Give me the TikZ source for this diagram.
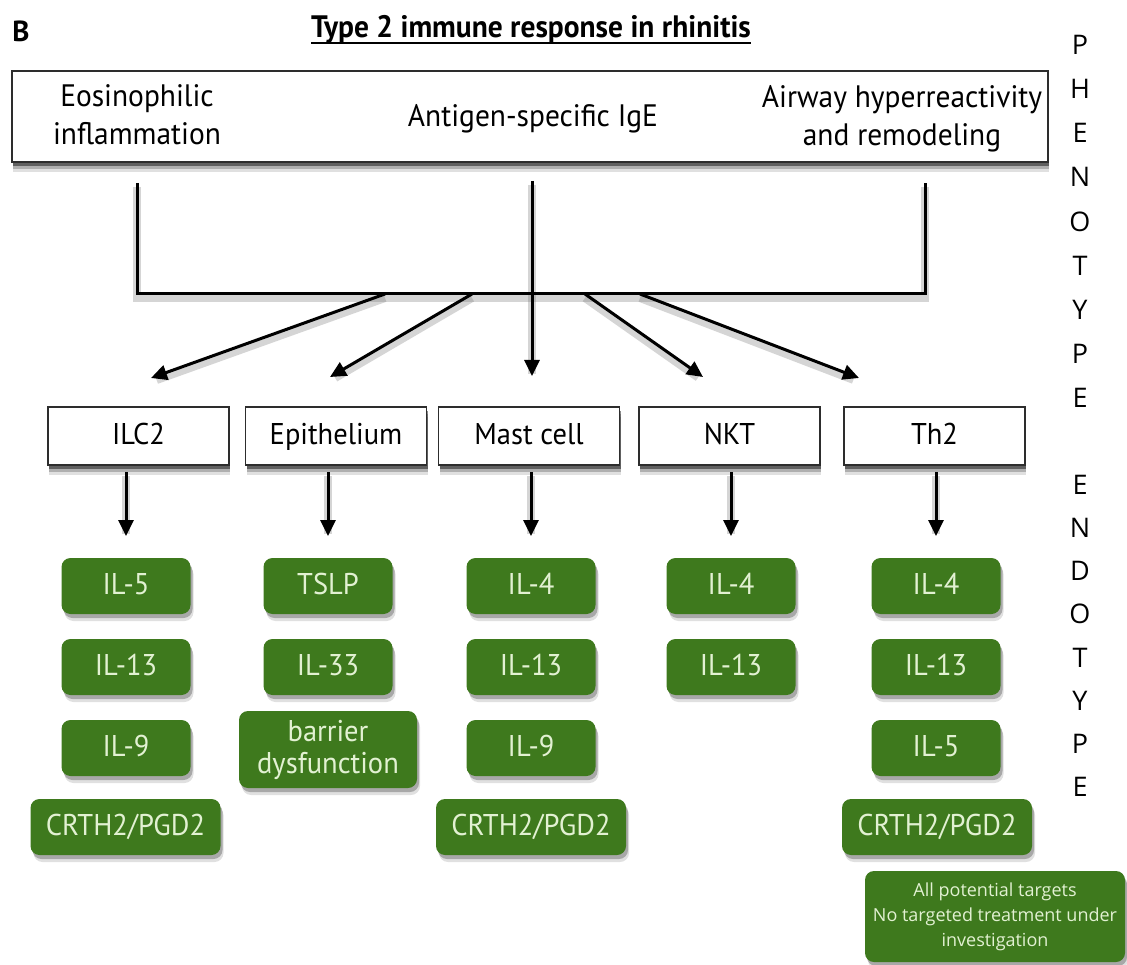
\documentclass[tikz,border=0pt]{standalone}
\usepackage{fontspec}
\setmainfont{PT Sans}
\newfontfamily\labelfont[FakeStretch=0.95]{PT Sans}
\newfontfamily\letterfont{Open Sans}
\usetikzlibrary{arrows.meta,shadows}

\definecolor{leaf}{RGB}{62,121,29}
\definecolor{leaftext}{RGB}{226,241,210}
\definecolor{frame}{RGB}{45,45,45}

\begin{document}
\begin{tikzpicture}[
  x=1pt, y=-1pt,
  every node/.style={inner sep=0pt, outer sep=0pt},
  % layered shadows give a soft edge below each box
  boxshadow/.style={
      drop shadow={shadow xshift=1pt, shadow yshift=-10pt, opacity=0.12, fill=black},
      drop shadow={shadow xshift=1pt, shadow yshift=-7pt, opacity=0.22, fill=black},
      drop shadow={shadow xshift=1pt, shadow yshift=-4pt, opacity=0.45, fill=black}},
  leafshadow/.style={
      drop shadow={shadow xshift=3pt, shadow yshift=-7pt, opacity=0.12, fill=black},
      drop shadow={shadow xshift=2pt, shadow yshift=-4pt, opacity=0.25, fill=black}},
  framebox/.style={draw=frame, line width=1.8pt, fill=white, boxshadow},
  cellbox/.style={framebox, minimum width=181pt, minimum height=58pt,
      font=\labelfont\fontsize{30}{34}\selectfont, text height=22pt, text depth=6pt},
  toptext/.style={font=\labelfont\fontsize{31}{38}\selectfont, align=center},
  target/.style={fill=leaf, rounded corners=9pt, text=leaftext, leafshadow,
      minimum width=129pt, minimum height=56pt, font=\labelfont\fontsize{30}{32}\selectfont},
  oneline/.style={target, text height=22pt, text depth=5pt},
  widetarget/.style={oneline, minimum width=190pt},
  link/.style={line width=3pt},
  linkshade/.style={line width=8pt, draw=black!55, opacity=0.3},
  arrowline/.style={link, -{Triangle[length=16pt,width=15pt]}},
  letter/.style={font=\letterfont\fontsize{27}{27}\selectfont}
]
\useasboundingbox (0,0) rectangle (1127,965);

% heading
\node[font=\bfseries\fontsize{29}{29}\selectfont, text height=20pt] (panel) at (21,32) {B};
\node[font=\labelfont\bfseries\fontsize{31}{31}\selectfont, anchor=base] (title) at (531,38)
  {Type 2 immune response in rhinitis};
\draw[line width=1.6pt] ([yshift=-5pt]title.base west) -- ([yshift=-5pt]title.base east);

% phenotype box
\node[framebox, minimum width=1036pt, minimum height=91pt] (traits) at (530,116.5) {};
\node[toptext] (eos) at (137,115) {Eosinophilic\\inflammation};
\node[toptext] (ige) at (533,118.5) {Antigen-specific IgE};
\node[toptext] (ahr) at (902,118.5) {Airway hyperreactivity\\and remodeling};

% bracket gathering the phenotypes
\coordinate (bl) at (137,183);
\coordinate (br) at (925,183);
\coordinate (blc) at (137,294);
\coordinate (brc) at (925,294);
\coordinate (mtop) at (532,181);

% fan of arrows towards the cell types
\coordinate (h1) at (385,294);
\coordinate (h2) at (472,294);
\coordinate (h4) at (585,294);
\coordinate (h5) at (640,294);
\coordinate (t1) at (151,378);
\coordinate (t2) at (330,377);
\coordinate (t3) at (532,376);
\coordinate (t4) at (703,377);
\coordinate (t5) at (859,378);

% soft shadows under the connectors
\begin{scope}[transform canvas={yshift=-4pt}]
  \draw[linkshade] (bl) -- (blc) -- (brc) -- (br);
  \foreach \a/\b in {h1/t1, h2/t2, mtop/t3, h4/t4, h5/t5}
    \draw[linkshade, shorten >=6pt] (\a) -- (\b);
\end{scope}

\draw[link] (bl) -- (blc) -- (brc) -- (br);
\draw[arrowline] (h1) -- (t1);
\draw[arrowline] (h2) -- (t2);
\draw[arrowline] (mtop) -- (t3);
\draw[arrowline] (h4) -- (t4);
\draw[arrowline] (h5) -- (t5);

% cell types
\node[cellbox] (ilc2) at (138.5,436) {ILC2};
\node[cellbox] (epi)  at (336,436)   {Epithelium};
\node[cellbox] (mast) at (529,436)   {Mast cell};
\node[cellbox] (nkt)  at (729.5,436) {NKT};
\node[cellbox] (th2)  at (934.5,436) {Th2};

% mediators and targets
\node[oneline] (a1) at (126,586) {IL-5};
\node[oneline] (a2) at (126,667) {IL-13};
\node[oneline] (a3) at (126,748) {IL-9};
\node[widetarget] (a4) at (125.5,827) {CRTH2/PGD2};

\node[oneline] (b1) at (328,586) {TSLP};
\node[oneline] (b2) at (328,667) {IL-33};
\node[target, minimum width=178pt, minimum height=77pt, align=center] (b3) at (328,749.5)
  {barrier\\dysfunction};

\node[oneline] (c1) at (531,586) {IL-4};
\node[oneline] (c2) at (531,667) {IL-13};
\node[oneline] (c3) at (531,748) {IL-9};
\node[widetarget] (c4) at (531,827) {CRTH2/PGD2};

\node[oneline] (d1) at (731,586) {IL-4};
\node[oneline] (d2) at (731,667) {IL-13};

\node[oneline] (e1) at (936,586) {IL-4};
\node[oneline] (e2) at (936,667) {IL-13};
\node[oneline] (e3) at (936,748) {IL-5};
\node[widetarget] (e4) at (937,827) {CRTH2/PGD2};

\node[target, minimum width=260pt, minimum height=91pt, align=center,
      font=\letterfont\fontsize{18}{25}\selectfont] (note) at (995,916.5)
  {All potential targets\\No targeted treatment under\\investigation};

% arrows from cell types to their products
\foreach \src/\dst in {ilc2/a1, epi/b1, mast/c1, nkt/d1, th2/e1} {
  \draw[linkshade, transform canvas={yshift=-4pt}, shorten <=7pt, shorten >=28pt]
    (\src.south -| \dst.north) -- (\dst.north);
  \draw[arrowline, shorten <=7pt, shorten >=22pt] (\src.south -| \dst.north) -- (\dst.north);
}

% side labels
\foreach \ch [count=\k] in {P,H,E,N,O,T,Y,P,E}
  \node[letter] (ph\k) at (1080,{45+44.1*(\k-1)}) {\ch};
\foreach \ch [count=\k] in {E,N,D,O,T,Y,P,E}
  \node[letter] (en\k) at (1080,{485+43.1*(\k-1)}) {\ch};
\end{tikzpicture}
\end{document}
